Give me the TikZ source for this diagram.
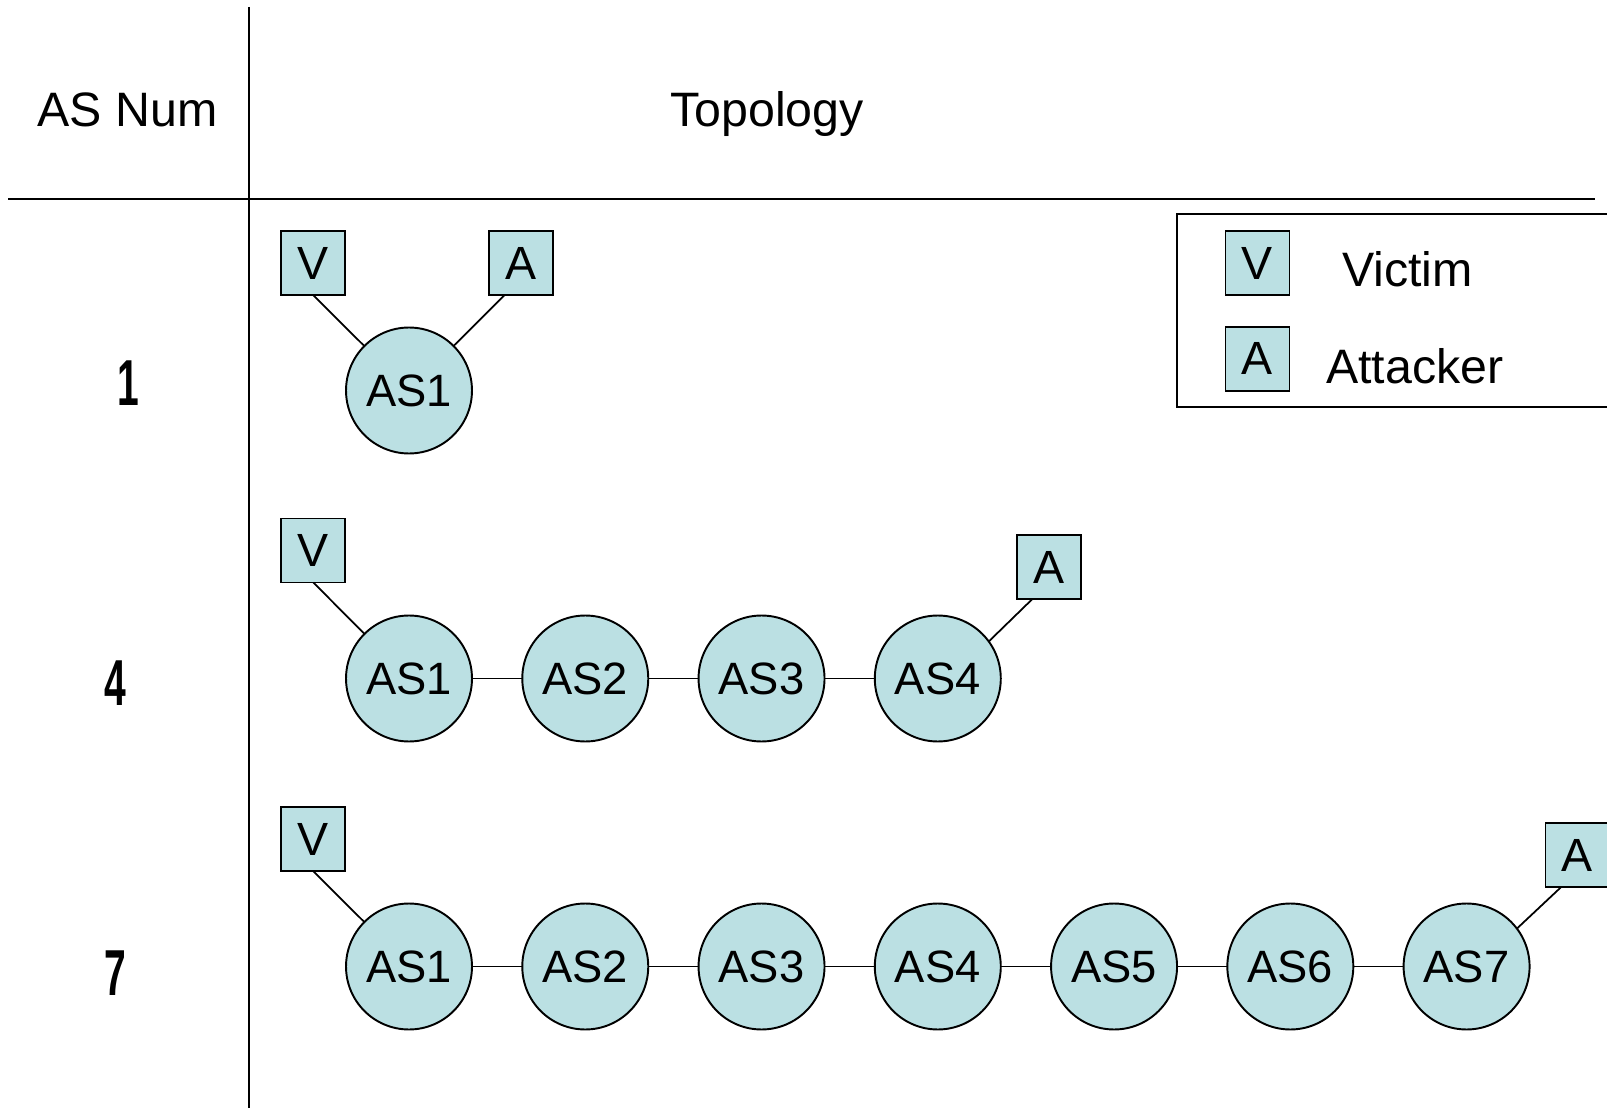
\documentclass[tikz,border=0pt]{standalone}
\usepackage{fontspec}
\setmainfont{Liberation Sans}
\usetikzlibrary{positioning}

\definecolor{asfill}{RGB}{187,224,227}
\newcommand{\narrownum}[1]{\scalebox{0.6}[1]{#1}}

\begin{document}
\begin{tikzpicture}[x=0.02cm,y=-0.02cm,
  asnode/.style={circle,draw,fill=asfill,line width=1.1pt,minimum size=2.52cm,inner sep=0pt,outer sep=0pt,font=\fontsize{25.8}{30}\selectfont},
  endbox/.style={rectangle,draw,fill=asfill,line width=1pt,minimum size=1.28cm,inner sep=0pt,outer sep=0pt,font=\fontsize{26.5}{32}\selectfont},
  headtext/.style={anchor=base,font=\fontsize{27.5}{32}\selectfont},
  numlabel/.style={anchor=base,font=\fontsize{37}{44}\selectfont\bfseries},
  legtext/.style={anchor=base west,font=\fontsize{27.5}{33}\selectfont},
  link/.style={line width=1pt}]
\useasboundingbox (0,0) rectangle (1607,1108);

% Table rules and headings
\draw[line width=1.1pt] (249,7) -- (249,1108);
\draw[line width=1.1pt] (8,199) -- (1595,199);
\node[headtext] (asnum) at (127.5,126.7) {AS Num};
\node[headtext] (topo) at (767,126.7) {Topology};

% Row numbers
\node[numlabel] (num1) at (128,405) {\narrownum{1}};
\node[numlabel] (num4) at (115,705.5) {\narrownum{4}};
\node[numlabel] (num7) at (115.5,995) {\narrownum{7}};

% Legend
\draw[line width=1.1pt] (1607,214.3) -- (1177.3,214.3) -- (1177.3,406.7) -- (1607,406.7);
\node[endbox] (legv) at (1257.5,263) {V};
\node[endbox] (lega) at (1257.5,358.7) {A};
\node[legtext] (legvtext) at (1336,286.7) {Victim};
\node[legtext] (legatext) at (1320,383) {Attacker};

% One AS
\node[asnode] (r1as1) at (409,390.5) {AS1};
\node[endbox] (v1) at (313,263) {V};
\node[endbox] (a1) at (521,263) {A};
\draw[link] (v1.south) -- (r1as1);
\draw[link] (a1.-117) -- (r1as1.45);

% Four ASes
\node[asnode] (r4as1) at (409,678.5) {AS1};
\node[asnode,right=1.006cm of r4as1] (r4as2) {AS2};
\node[asnode,right=1.006cm of r4as2] (r4as3) {AS3};
\node[asnode,right=1.006cm of r4as3] (r4as4) {AS4};
\node[endbox] (v4) at (313.3,550.5) {V};
\node[endbox] (a4) at (1048.7,567) {A};
\draw[link] (v4.south) -- (r4as1);
\draw[link] (r4as1) -- (r4as2) (r4as2) -- (r4as3) (r4as3) -- (r4as4);
\draw[link] (a4.-117) -- (r4as4.36);

% Seven ASes
\node[asnode] (r7as1) at (409,966.5) {AS1};
\node[asnode,right=1.006cm of r7as1] (r7as2) {AS2};
\node[asnode,right=1.006cm of r7as2] (r7as3) {AS3};
\node[asnode,right=1.006cm of r7as3] (r7as4) {AS4};
\node[asnode,right=1.006cm of r7as4] (r7as5) {AS5};
\node[asnode,right=1.006cm of r7as5] (r7as6) {AS6};
\node[asnode,right=1.006cm of r7as6] (r7as7) {AS7};
\node[endbox] (v7) at (313,839) {V};
\node[endbox] (a7) at (1577.5,855) {A};
\draw[link] (v7.south) -- (r7as1);
\draw[link] (r7as1) -- (r7as2) (r7as2) -- (r7as3) (r7as3) -- (r7as4)
  (r7as4) -- (r7as5) (r7as5) -- (r7as6) (r7as6) -- (r7as7);
\draw[link] (a7.-117) -- (r7as7.37);

\end{tikzpicture}
\end{document}
